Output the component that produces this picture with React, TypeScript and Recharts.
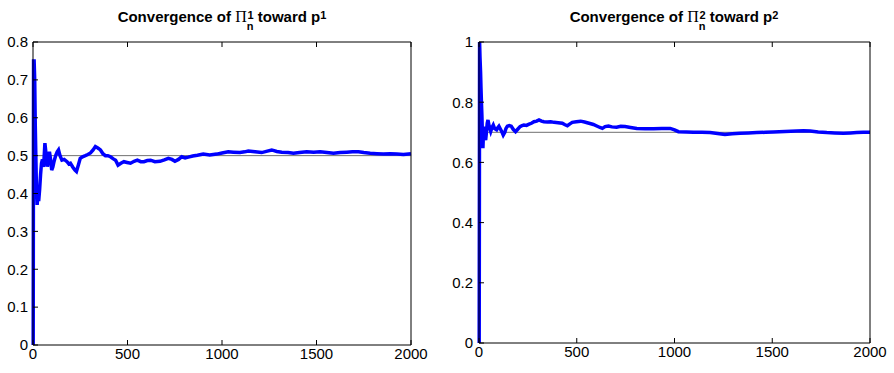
import { LineChart, Line, XAxis, YAxis, ReferenceLine } from "recharts";

// iterations n and the estimate of Pi_n^1 (left panel)
const leftN = [
  1, 3, 6, 9, 12, 15, 18, 22, 26, 30, 35, 40, 45, 50, 56, 63, 70, 76, 82, 87,
  93, 99, 105, 112, 120, 128, 135, 143, 153, 165, 180, 190, 198, 210, 222, 230,
  240, 250, 262, 277, 290, 304, 318, 330, 343, 357, 370, 383, 396, 410, 423,
  437, 450, 465, 481, 498, 516, 535, 552, 570, 587, 605, 622, 645, 672, 695,
  716, 735, 751, 770, 787, 805, 822, 845, 870, 901, 935, 972, 1000, 1033, 1060,
  1095, 1120, 1139, 1175, 1210, 1240, 1263, 1290, 1316, 1350, 1378, 1410, 1448,
  1485, 1519, 1555, 1590, 1625, 1660, 1690, 1722, 1750, 1784, 1820, 1854, 1890,
  1925, 1960, 2000,
];
const leftPi = [
  0.0, 0.75, 0.75, 0.7, 0.58, 0.5, 0.42, 0.37, 0.4, 0.38, 0.41, 0.45, 0.48,
  0.49, 0.47, 0.533, 0.5, 0.471, 0.49, 0.51, 0.49, 0.462, 0.47, 0.486, 0.5,
  0.51, 0.515, 0.5, 0.488, 0.49, 0.484, 0.478, 0.48, 0.47, 0.462, 0.458, 0.475,
  0.493, 0.497, 0.5, 0.503, 0.507, 0.515, 0.524, 0.52, 0.515, 0.505, 0.5, 0.5,
  0.497, 0.492, 0.488, 0.475, 0.48, 0.484, 0.482, 0.48, 0.485, 0.488, 0.484,
  0.484, 0.487, 0.488, 0.484, 0.485, 0.489, 0.493, 0.49, 0.485, 0.49, 0.497,
  0.494, 0.496, 0.499, 0.501, 0.504, 0.502, 0.504, 0.507, 0.51, 0.509, 0.508,
  0.51, 0.512, 0.51, 0.508, 0.512, 0.515, 0.511, 0.509, 0.508, 0.506, 0.508,
  0.51, 0.509, 0.51, 0.508, 0.506, 0.508, 0.509, 0.51, 0.51, 0.508, 0.506,
  0.505, 0.504, 0.505, 0.504, 0.503, 0.505,
];

// iterations n and the estimate of Pi_n^2 (right panel)
const rightN = [
  1, 3, 5, 8, 10, 13, 15, 18, 20, 23, 26, 30, 34, 38, 42, 46, 52, 60, 66, 73,
  80, 90, 96, 102, 110, 118, 124, 132, 138, 145, 155, 165, 175, 187, 198, 210,
  220, 230, 243, 256, 268, 281, 295, 307, 320, 332, 350, 367, 384, 405, 426,
  440, 452, 465, 477, 498, 520, 540, 563, 585, 605, 619, 631, 645, 662, 680,
  704, 725, 747, 775, 807, 850, 893, 935, 978, 1000, 1020, 1060, 1097, 1140,
  1182, 1220, 1258, 1295, 1335, 1378, 1421, 1465, 1506, 1565, 1625, 1660, 1694,
  1735, 1779, 1820, 1864, 1900, 1932, 1965, 2000,
];
const rightPi = [
  0.0, 1.0, 0.95, 0.9, 0.85, 0.79, 0.752, 0.68, 0.647, 0.7, 0.719, 0.69,
  0.674, 0.7, 0.73, 0.741, 0.72, 0.703, 0.715, 0.724, 0.712, 0.708, 0.715,
  0.72, 0.71, 0.7, 0.691, 0.7, 0.713, 0.72, 0.722, 0.72, 0.71, 0.702, 0.71,
  0.719, 0.722, 0.724, 0.723, 0.727, 0.73, 0.735, 0.737, 0.741, 0.737, 0.735,
  0.734, 0.735, 0.733, 0.732, 0.73, 0.725, 0.722, 0.728, 0.733, 0.735, 0.737,
  0.734, 0.73, 0.726, 0.72, 0.716, 0.713, 0.719, 0.721, 0.718, 0.717, 0.72,
  0.719, 0.716, 0.713, 0.712, 0.712, 0.713, 0.713, 0.708, 0.702, 0.701, 0.7,
  0.7, 0.699, 0.696, 0.693, 0.695, 0.697, 0.698, 0.699, 0.7, 0.701, 0.703,
  0.704, 0.705, 0.704, 0.701, 0.699, 0.698, 0.697, 0.698, 0.699, 0.7, 0.7,
];

const xTicks = [0, 500, 1000, 1500, 2000];
const leftYTicks = [0, 0.1, 0.2, 0.3, 0.4, 0.5, 0.6, 0.7, 0.8];
const rightYTicks = [0, 0.2, 0.4, 0.6, 0.8, 1];
const leftTarget = 0.5;
const rightTarget = 0.7;

const FONT = "'Liberation Sans', Arial, Helvetica, sans-serif";
const tickStyle = { fontSize: 15, fill: "#000", fontFamily: FONT };
const noLabel = () => "";

type Panel = {
  data: { n: number; v: number }[];
  yTicks: number[];
  yMax: number;
  target: number;
  yWidth: number;
  xHeight: number;
  right: number;
  yMargin: number;
};

// matlab style box: inward ticks on all four sides, labels only bottom/left
function ConvergenceChart({ data, yTicks, yMax, target, yWidth, xHeight, right, yMargin }: Panel) {
  return (
    <LineChart
      width={447}
      height={373}
      data={data}
      margin={{ top: 41, right: right - 1, bottom: 0, left: 0 }}
    >
      <XAxis
        dataKey="n"
        type="number"
        domain={[0, 2000]}
        ticks={xTicks}
        height={xHeight}
        tickSize={-5}
        tickMargin={8}
        tick={tickStyle}
        stroke="#000"
        interval={0}
      />
      <XAxis
        xAxisId="top"
        orientation="top"
        dataKey="n"
        type="number"
        domain={[0, 2000]}
        ticks={xTicks}
        height={1}
        tickSize={-5}
        tickFormatter={noLabel}
        stroke="#000"
        interval={0}
      />
      <YAxis
        type="number"
        domain={[0, yMax]}
        ticks={yTicks}
        width={yWidth}
        tickSize={-5}
        tickMargin={yMargin}
        tick={tickStyle}
        stroke="#000"
        interval={0}
      />
      <YAxis
        yAxisId="r"
        orientation="right"
        type="number"
        domain={[0, yMax]}
        ticks={yTicks}
        width={1}
        tickSize={-5}
        tickFormatter={noLabel}
        stroke="#000"
        interval={0}
      />
      <ReferenceLine y={target} stroke="#707070" strokeWidth={1} />
      <Line
        dataKey="v"
        type="linear"
        stroke="#0000ff"
        strokeWidth={3.5}
        dot={false}
        isAnimationActive={false}
      />
    </LineChart>
  );
}

function Title({ cx, k }: { cx: number; k: string }) {
  return (
    <text
      x={cx}
      y={21.7}
      textAnchor="middle"
      fontFamily={FONT}
      fontWeight="bold"
      fontSize={15}
      fill="#000"
    >
      Convergence of{" "}
      <tspan fontFamily="'Liberation Serif', 'DejaVu Serif', serif" fontWeight="normal" fontSize={16}>
        Π
      </tspan>
      <tspan fontSize={11} dy={8}>n</tspan>
      <tspan fontSize={11} dx={-6} dy={-11}>{k}</tspan>
      <tspan dy={3}> toward p</tspan>
      <tspan fontSize={11} dy={-3}>{k}</tspan>
    </text>
  );
}

export default function App() {
  const left = leftN.map((n, i) => ({ n, v: leftPi[i] }));
  const rightData = rightN.map((n, i) => ({ n, v: rightPi[i] }));
  return (
    <div style={{ position: "absolute", left: 0, top: 0, width: 894, height: 373, background: "#fff" }}>
      <div style={{ position: "absolute", left: 0, top: 0 }}>
        <ConvergenceChart
          data={left}
          yTicks={leftYTicks}
          yMax={0.8}
          target={leftTarget}
          yWidth={33}
          xHeight={28}
          right={36}
          yMargin={10}
        />
      </div>
      <div style={{ position: "absolute", left: 447, top: 0 }}>
        <ConvergenceChart
          data={rightData}
          yTicks={rightYTicks}
          yMax={1}
          target={rightTarget}
          yWidth={32}
          xHeight={30}
          right={24}
          yMargin={11}
        />
      </div>
      <svg width={894} height={40} style={{ position: "absolute", left: 0, top: 0 }}>
        <Title cx={222} k="1" />
        <Title cx={674} k="2" />
      </svg>
    </div>
  );
}
